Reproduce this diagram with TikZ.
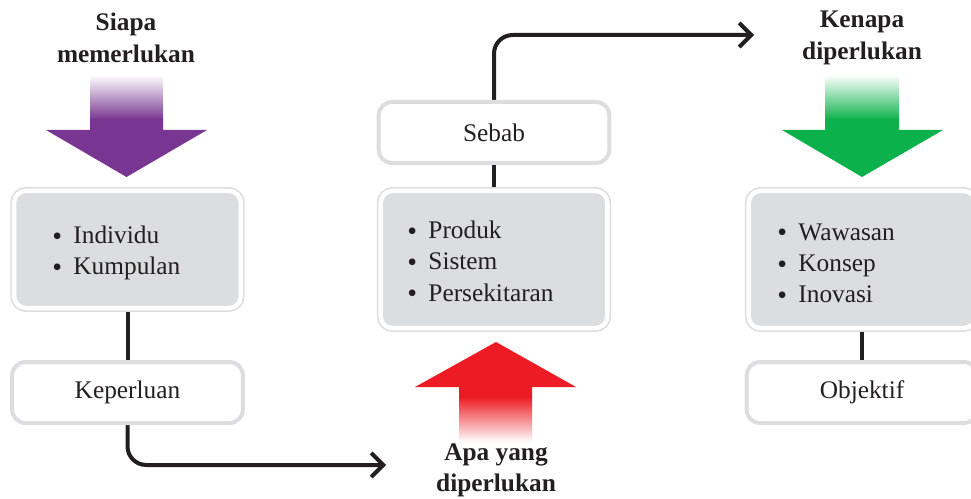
\documentclass[tikz,border=0pt]{standalone}
\usepackage{fontspec}
\setmainfont{Liberation Serif}
\usepackage{graphicx}
\usetikzlibrary{arrows.meta,backgrounds}
\definecolor{boxgray}{RGB}{220,221,222}
\definecolor{ink}{RGB}{35,31,32}
\definecolor{whopurple}{RGB}{120,53,145}
\definecolor{whygreen}{RGB}{13,177,75}
\definecolor{whatred}{RGB}{237,28,36}
\newcommand{\itm}{\raisebox{-0.15ex}{\scalebox{1.1}{\textbullet}}\hspace{0.45em}}
\begin{document}
\begin{tikzpicture}[x=0.75pt,y=-0.75pt,
  every node/.style={inner sep=0pt, text=ink, font=\fontsize{19}{23.5}\selectfont},
  listbox/.style={draw=boxgray, line width=1.2pt, double=white, double distance=3.3pt,
    fill=boxgray, rounded corners=9pt, minimum width=170pt},
  tagbox/.style={draw=boxgray, line width=3pt, fill=white, rounded corners=10pt,
    minimum width=173pt, minimum height=45.75pt},
  heading/.style={align=center, font=\bfseries\fontsize{19}{23.5}\selectfont},
  items/.style={align=left, anchor=west},
  flow/.style={draw=ink, line width=3pt, rounded corners=14pt},
  flowarrow/.style={flow, -{Straight Barb[length=9pt,width=18pt]}}]
\clip (0,0) rectangle (971,499);

\shade[top color=white, bottom color=whopurple] (90,75) rectangle (163,120);
\fill[whopurple] (90,119) -- (163,119) -- (163,130) -- (207,130) -- (126.5,177) -- (46,130) -- (90,130) -- cycle;
\shade[top color=white, bottom color=whygreen] (825,75) rectangle (899,120);
\fill[whygreen] (825,119) -- (899,119) -- (899,130) -- (943,130) -- (862,177) -- (782,130) -- (825,130) -- cycle;
\shade[top color=whatred, bottom color=white] (459,397) rectangle (532,442);
\fill[whatred] (459,398) -- (532,398) -- (532,387) -- (576,387) -- (496,342) -- (415,387) -- (459,387) -- cycle;

\node[heading] (siapa) at (126,38) {Siapa\\memerlukan};
\node[heading] (kenapa) at (862,38) {Kenapa\\diperlukan};
\node[heading] (apa) at (496,470) {Apa yang\\diperlukan};

\node[listbox, minimum height=88pt] (whobox) at (127.5,249.5) {};
\node[listbox, minimum height=103pt] (whatbox) at (494,259.5) {};
\node[listbox, minimum height=103pt] (whybox) at (862,259.5) {};
\node[items] (wholist) at (52,253) {\itm Individu\\\itm Kumpulan};
\node[items] (whatlist) at (407,262) {\itm Produk\\\itm Sistem\\\itm Persekitaran};
\node[items] (whylist) at (777,264) {\itm Wawasan\\\itm Konsep\\\itm Inovasi};

\node[tagbox] (keperluan) at (127.5,392.5) {Keperluan};
\node[tagbox] (sebab) at (494,132.5) {Sebab};
\node[tagbox] (objektif) at (862,392.5) {Objektif};

\coordinate (apatip) at (386,465);
\coordinate (kenapatip) at (754,35);

\begin{scope}[on background layer]
\draw[flow] (whobox) -- (keperluan);
\draw[flow] (sebab) -- (whatbox);
\draw[flow] (whybox) -- (objektif);
\draw[flowarrow] (keperluan.south) |- (apatip);
\draw[flowarrow] (sebab.north) |- (kenapatip);
\end{scope}
\end{tikzpicture}
\end{document}
